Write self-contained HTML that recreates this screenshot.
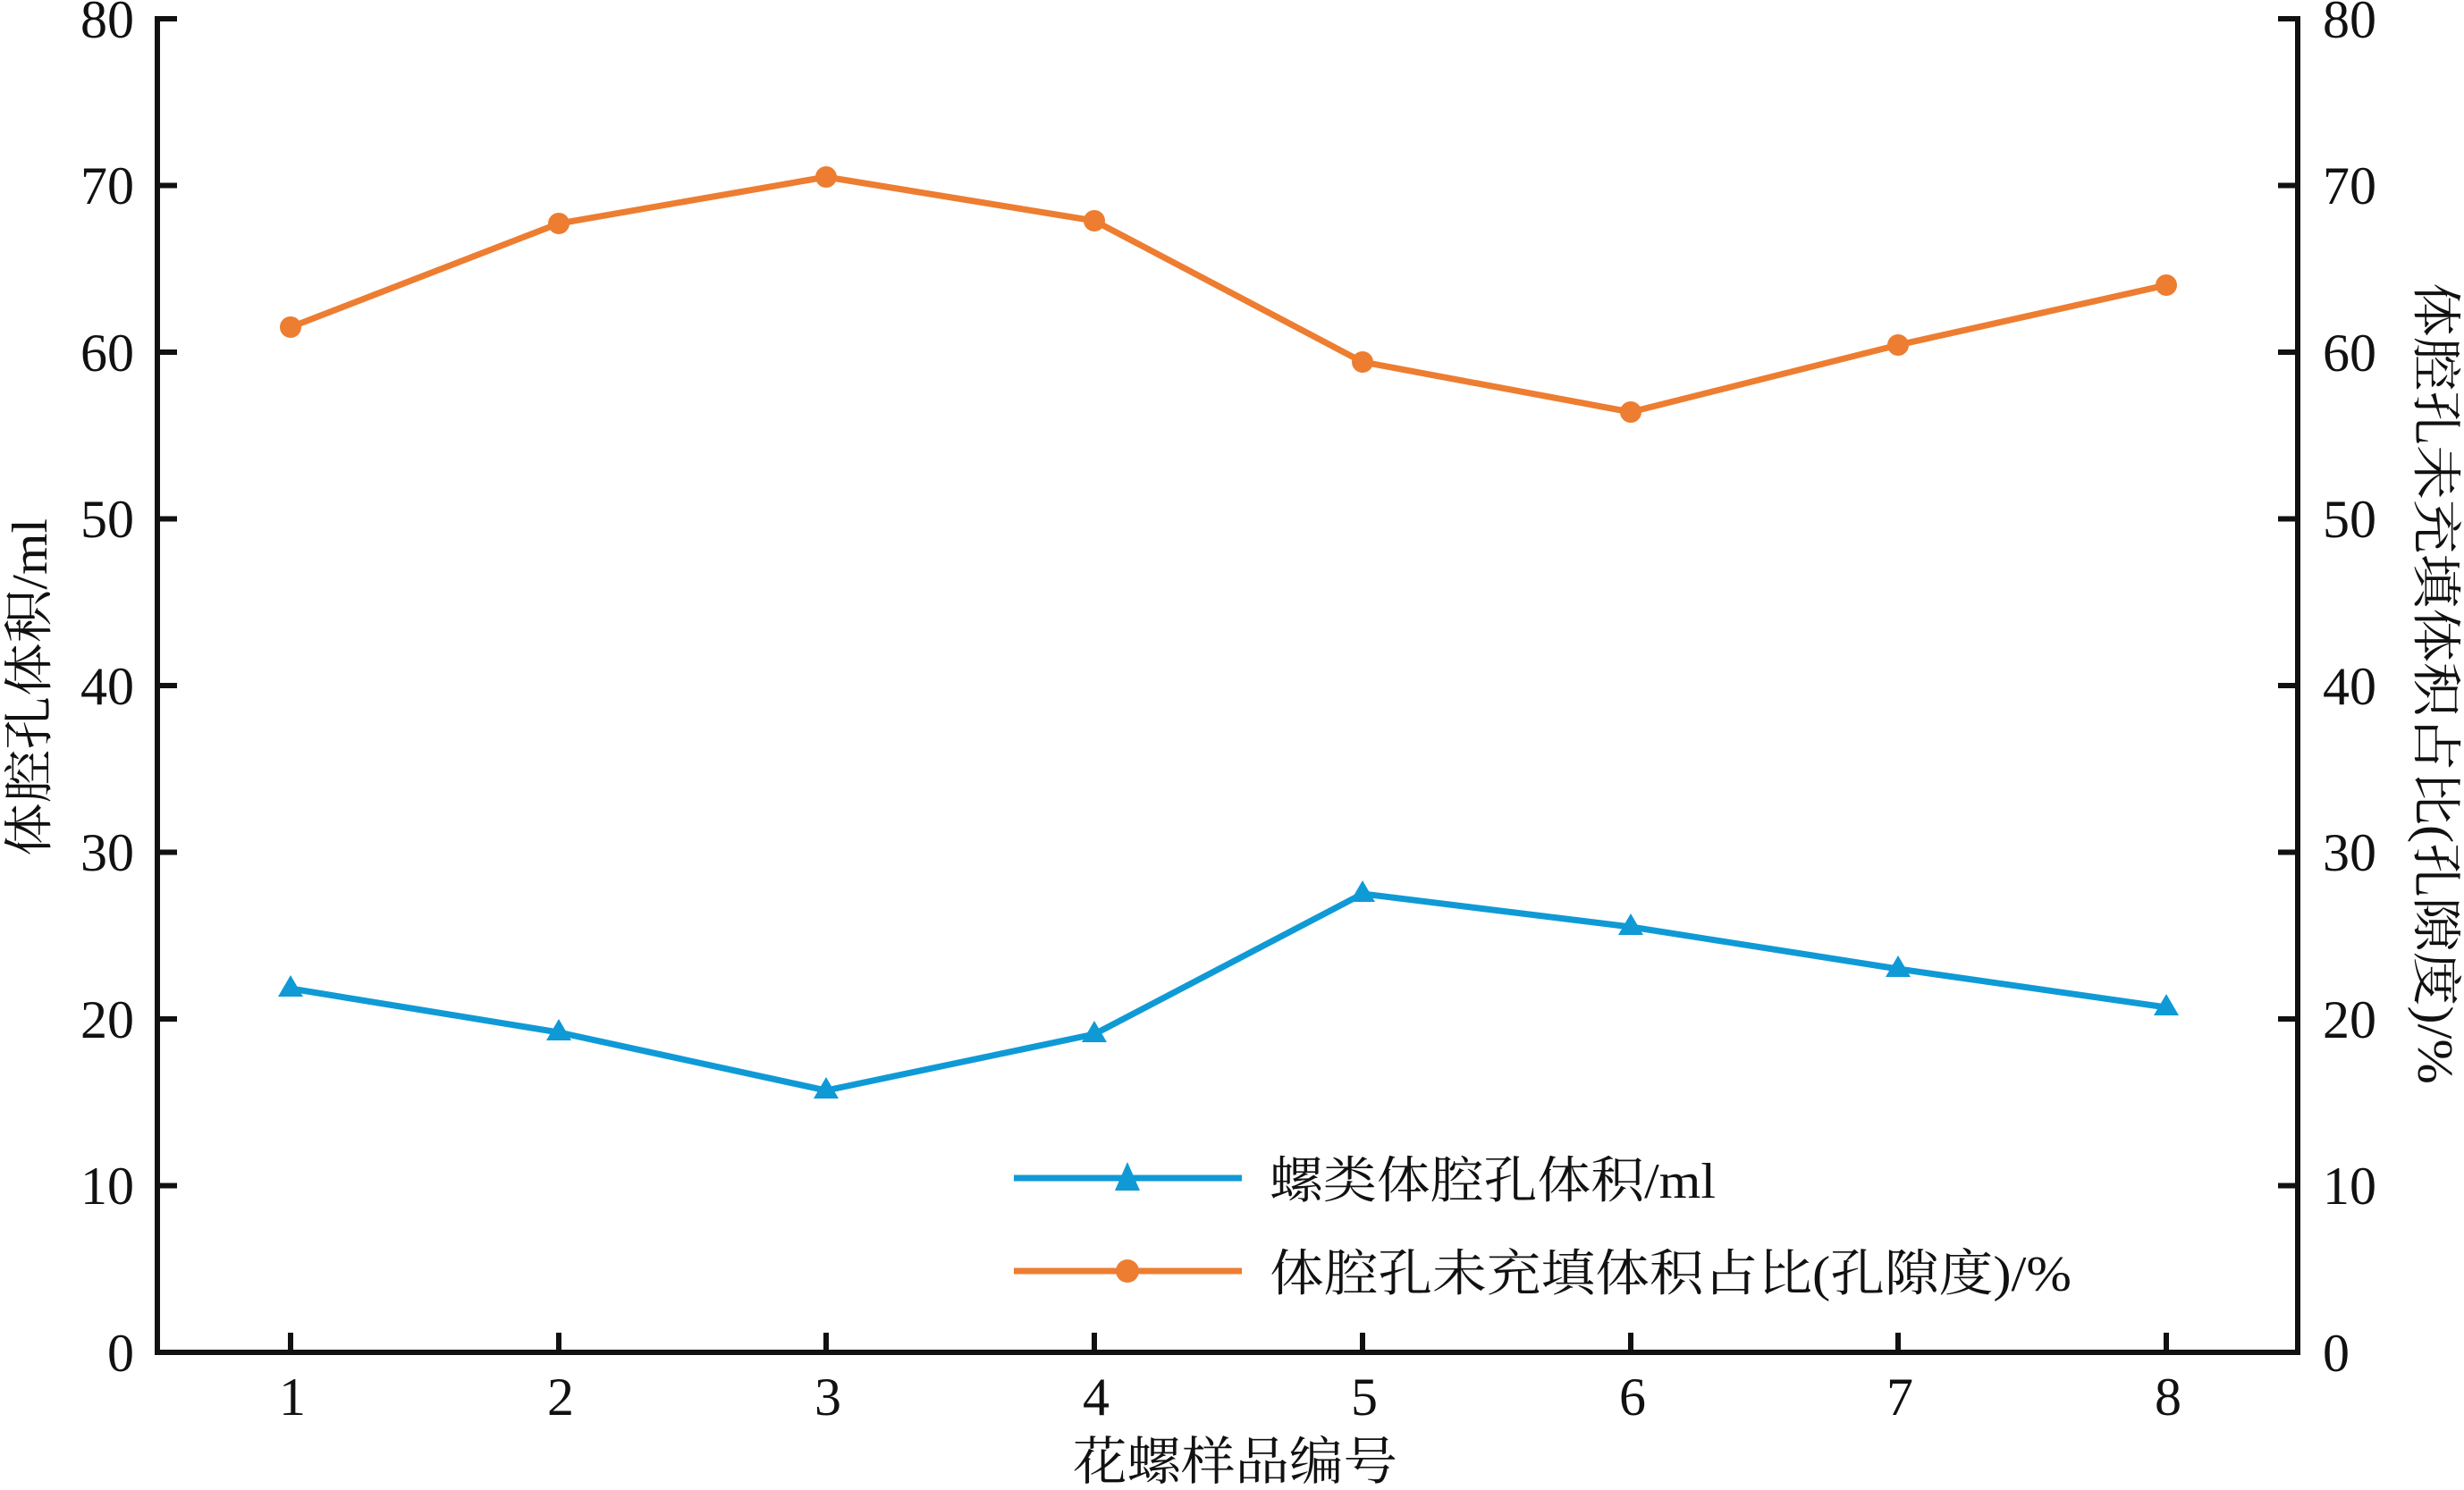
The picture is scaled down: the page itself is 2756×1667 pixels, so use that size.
<!DOCTYPE html>
<html><head><meta charset="utf-8"><style>html,body{margin:0;padding:0;background:#fff}svg{display:block}text{font-family:"Liberation Serif","Noto Serif CJK SC",serif}</style></head>
<body>
<svg width="2756" height="1667" viewBox="0 0 2756 1667" xmlns="http://www.w3.org/2000/svg">
<g fill="#111">
<g stroke="#111" stroke-width="6" fill="none">
<polyline points="176,18 176,1513 2570,1513 2570,18"/>
</g>
<g stroke="#111" stroke-width="6">
<line x1="176" y1="21" x2="198" y2="21"/><line x1="176" y1="207.5" x2="198" y2="207.5"/><line x1="176" y1="394" x2="198" y2="394"/><line x1="176" y1="580.5" x2="198" y2="580.5"/><line x1="176" y1="767" x2="198" y2="767"/><line x1="176" y1="953.5" x2="198" y2="953.5"/><line x1="176" y1="1140" x2="198" y2="1140"/><line x1="176" y1="1326.5" x2="198" y2="1326.5"/>
<line x1="2570" y1="21" x2="2548" y2="21"/><line x1="2570" y1="207.5" x2="2548" y2="207.5"/><line x1="2570" y1="394" x2="2548" y2="394"/><line x1="2570" y1="580.5" x2="2548" y2="580.5"/><line x1="2570" y1="767" x2="2548" y2="767"/><line x1="2570" y1="953.5" x2="2548" y2="953.5"/><line x1="2570" y1="1140" x2="2548" y2="1140"/><line x1="2570" y1="1326.5" x2="2548" y2="1326.5"/>
<line x1="325" y1="1513" x2="325" y2="1491"/><line x1="625" y1="1513" x2="625" y2="1491"/><line x1="924" y1="1513" x2="924" y2="1491"/><line x1="1224" y1="1513" x2="1224" y2="1491"/><line x1="1524" y1="1513" x2="1524" y2="1491"/><line x1="1824" y1="1513" x2="1824" y2="1491"/><line x1="2123" y1="1513" x2="2123" y2="1491"/><line x1="2423" y1="1513" x2="2423" y2="1491"/>
</g>
<g font-size="60" text-anchor="end">
<text x="150" y="42">80</text><text x="150" y="228">70</text><text x="150" y="415">60</text><text x="150" y="601">50</text><text x="150" y="788">40</text><text x="150" y="974">30</text><text x="150" y="1161">20</text><text x="150" y="1347">10</text><text x="150" y="1534">0</text>
</g>
<g font-size="60" text-anchor="start">
<text x="2598" y="42">80</text><text x="2598" y="228">70</text><text x="2598" y="415">60</text><text x="2598" y="601">50</text><text x="2598" y="788">40</text><text x="2598" y="974">30</text><text x="2598" y="1161">20</text><text x="2598" y="1347">10</text><text x="2598" y="1534">0</text>
</g>
<g font-size="60" text-anchor="middle">
<text x="327" y="1583">1</text><text x="627" y="1583">2</text><text x="926" y="1583">3</text><text x="1226" y="1583">4</text><text x="1526" y="1583">5</text><text x="1826" y="1583">6</text><text x="2125" y="1583">7</text><text x="2425" y="1583">8</text>
</g>
<text x="1200" y="1655" font-size="58" textLength="363" lengthAdjust="spacingAndGlyphs">花螺样品编号</text>
<text transform="translate(52,958) rotate(-90)" font-size="56" textLength="378" lengthAdjust="spacingAndGlyphs">体腔孔体积/ml</text>
<text transform="translate(2705,316) rotate(90)" font-size="56" textLength="897" lengthAdjust="spacingAndGlyphs">体腔孔未充填体积占比(孔隙度)/%</text>
<polyline fill="none" stroke="#ED7D31" stroke-width="7" stroke-linejoin="round" points="325,366 625,250 924,198 1224,247 1524,405 1824,461 2123,386 2423,319"/>
<g fill="#ED7D31">
<circle cx="325" cy="366" r="12"/><circle cx="625" cy="250" r="12"/><circle cx="924" cy="198" r="12"/><circle cx="1224" cy="247" r="12"/><circle cx="1524" cy="405" r="12"/><circle cx="1824" cy="461" r="12"/><circle cx="2123" cy="386" r="12"/><circle cx="2423" cy="319" r="12"/>
</g>
<polyline fill="none" stroke="#0F9AD6" stroke-width="7" stroke-linejoin="round" points="325,1106 625,1155 924,1220 1224,1157 1524,1000 1824,1037 2123,1084 2423,1127"/>
<g fill="#0F9AD6">
<path d="M325,1091 l14,24 h-28z"/><path d="M625,1140 l14,24 h-28z"/><path d="M924,1205 l14,24 h-28z"/><path d="M1224,1142 l14,24 h-28z"/><path d="M1524,985 l14,24 h-28z"/><path d="M1824,1022 l14,24 h-28z"/><path d="M2123,1069 l14,24 h-28z"/><path d="M2423,1112 l14,24 h-28z"/>
</g>
<line x1="1134" y1="1318" x2="1389" y2="1318" stroke="#0F9AD6" stroke-width="7"/>
<path d="M1261,1300 l14,32 h-28z" fill="#0F9AD6"/>
<text x="1420" y="1340" font-size="56" textLength="499" lengthAdjust="spacingAndGlyphs">螺类体腔孔体积/ml</text>
<line x1="1134" y1="1422" x2="1389" y2="1422" stroke="#ED7D31" stroke-width="7"/>
<circle cx="1261" cy="1422" r="13" fill="#ED7D31"/>
<text x="1420" y="1444" font-size="56" textLength="897" lengthAdjust="spacingAndGlyphs">体腔孔未充填体积占比(孔隙度)/%</text>
</g>
</svg>
</body></html>
